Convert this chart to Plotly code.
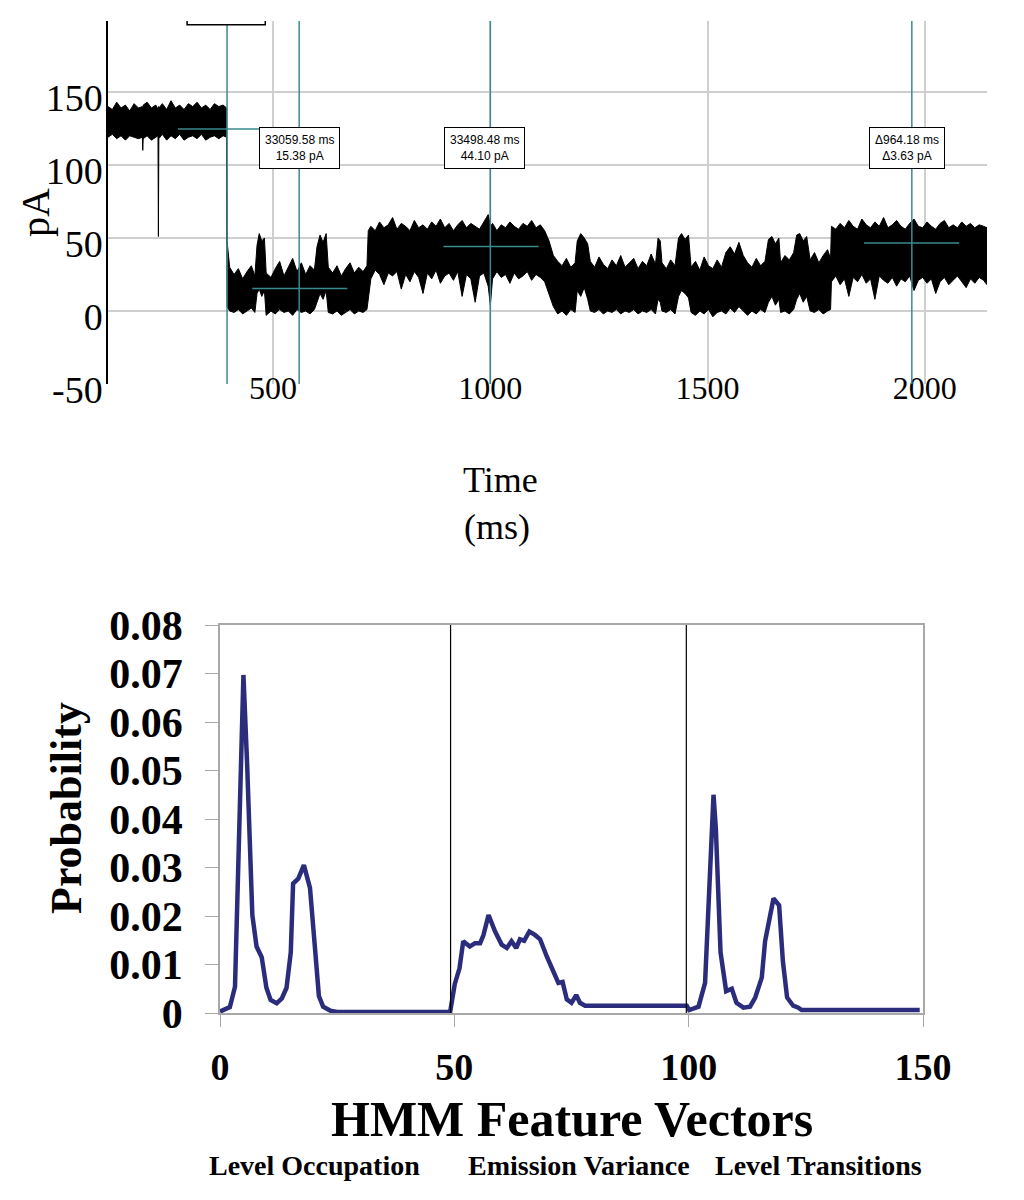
import plotly.graph_objects as go

# ---- top panel: current trace (envelope of the noisy record)
trace_t = [120, 130, 140, 150, 160, 170, 180, 190, 199, 200, 201, 210, 220, 230, 235, 236, 237,
           245, 255, 265, 275, 285, 295, 305, 315, 325, 335, 345, 355, 365, 375, 385, 393,
           394, 400, 410, 420, 430, 440, 450, 458, 463, 468, 474, 480, 484, 495, 505, 515,
           525, 535, 545, 555, 565, 575, 585, 595, 601, 608, 615, 622, 627, 637, 647, 657,
           667, 677, 687, 697, 707, 716, 719, 725, 735, 745, 755, 765, 775, 785, 795, 805,
           815, 825, 835, 845, 855, 865, 875, 885, 895, 905, 915, 925, 935, 945, 955, 965,
           975, 985, 995, 1000, 1005, 1015, 1025, 1035, 1045, 1055, 1065, 1075, 1085, 1095,
           1105, 1115, 1125, 1135, 1145, 1155, 1165, 1175, 1185, 1195, 1200, 1208, 1216, 1224,
           1230, 1240, 1250, 1260, 1270, 1280, 1290, 1300, 1310, 1320, 1330, 1340, 1350, 1360,
           1370, 1380, 1386, 1391, 1395, 1405, 1415, 1425, 1433, 1440, 1448, 1456, 1462, 1472,
           1482, 1492, 1502, 1512, 1522, 1532, 1542, 1552, 1562, 1572, 1582, 1592, 1602, 1612,
           1622, 1632, 1640, 1648, 1656, 1664, 1668, 1678, 1688, 1698, 1705, 1712, 1720, 1728,
           1736, 1746, 1756, 1766, 1776, 1783, 1785, 1795, 1805, 1815, 1825, 1835, 1845, 1855,
           1865, 1875, 1885, 1895, 1905, 1915, 1925, 1935, 1945, 1955, 1965, 1975, 1985, 1995,
           2005, 2015, 2025, 2035, 2045, 2055, 2065, 2075, 2085, 2095, 2105, 2115, 2125, 2135, 2143]
trace_hi = [140, 138, 143, 139, 141, 137, 142, 139, 140, 138, 141, 143, 139, 141, 138, 140, 139,
            142, 138, 144, 139, 141, 138, 142, 140, 143, 139, 141, 138, 142, 140, 141, 139,
            48, 30, 25, 29, 22, 27, 31, 24, 45, 53, 48, 50, 26, 23, 29, 34,
            24, 30, 36, 27, 33, 25, 31, 28, 44, 52, 47, 53, 30, 26, 31, 24,
            29, 33, 26, 30, 27, 31, 55, 58, 55, 61, 57, 59, 64, 56, 60, 58,
            55, 62, 57, 59, 56, 61, 58, 63, 57, 60, 55, 59, 62, 57, 60, 58,
            56, 61, 66, 58, 60, 55, 59, 57, 61, 58, 56, 60, 58, 62,
            57, 59, 55, 48, 38, 34, 31, 36, 30, 33, 48, 53, 50, 46,
            34, 30, 37, 32, 29, 35, 31, 38, 30, 33, 36, 29, 34, 31,
            39, 32, 50, 48, 33, 29, 35, 31, 50, 53, 49, 52, 30, 34,
            28, 37, 31, 29, 35, 30, 40, 44, 39, 47, 38, 33, 30, 36,
            31, 34, 49, 51, 46, 50, 33, 38, 35, 40, 52, 53, 48, 51,
            35, 40, 33, 38, 42, 36, 58, 56, 60, 57, 62, 58, 56, 63,
            59, 57, 61, 58, 64, 57, 59, 62, 58, 56, 60, 63, 58, 57,
            61, 58, 56, 60, 62, 57, 59, 57, 61, 58, 60, 57, 59, 58, 57]
trace_lo = [119, 121, 118, 120, 117, 120, 119, 118, 119, 110, 118, 120, 117, 119, 120, 51, 118,
            121, 117, 120, 118, 121, 117, 119, 120, 118, 121, 117, 119, 120, 118, 120, 119,
            3, 0, -1, 1, -2, 0, 2, -1, 12, 15, 10, 14, -3, 0, -2, 1,
            -1, 0, -3, 1, -1, 0, -2, 1, 6, 12, 8, 14, -1, -2, 0, -3,
            -1, 1, -2, 0, -1, 1, 10, 22, 28, 25, 18, 26, 24, 27, 15, 25,
            20, 27, 23, 12, 26, 22, 28, 19, 24, 26, 21, 27, 10, 25, 22, 6,
            24, 26, 17, 4, 22, 27, 23, 25, 19, 26, 22, 24, 27, 21,
            25, 23, 20, 12, 3, -2, 0, -3, 1, -1, 14, 10, 16, 8,
            0, -1, 1, -2, 0, -1, 1, -2, 0, -1, 1, -2, 0, -1,
            1, -2, 8, 6, 0, -1, 1, -2, 10, 14, 12, 9, -1, -3,
            0, -2, 1, -4, -1, 0, -2, 2, -1, 3, 0, -3, 0, -2,
            1, -1, 6, 10, 4, 8, -1, 0, -2, 1, 8, 12, 6, 10,
            0, -1, 1, -2, 0, 1, 20, 24, 18, 22, 10, 23, 20, 25,
            19, 22, 8, 24, 21, 19, 23, 17, 22, 20, 24, 14, 21, 23,
            19, 22, 12, 20, 23, 18, 21, 24, 20, 16, 22, 19, 23, 21, 18]

# cursors and their level markers
cursor_t = [394, 560, 1000, 1970]
level_t0 = [281, 452, 892, 1860]
level_t1 = [470, 671, 1111, 2079]
level_pa = [124.7, 15.4, 44.1, 46.6]
label_t = [560, 986, 1959]
label_text = ["33059.58 ms<br>15.38 pA", "33498.48 ms<br>44.10 pA", "\u0394964.18 ms<br>\u03943.63 pA"]

time_ticks = [500, 1000, 1500, 2000]
pa_ticks = [-50, 0, 50, 100, 150]
pa_labels = ["-50", "0", "50", "100", "150"]

# ---- bottom panel: HMM feature vector probabilities
feat_x = [0, 2.1, 3.2, 5.0, 5.8, 6.9, 7.8, 8.9, 9.9, 10.8, 12.1, 13.2, 14.2, 15.1, 15.6, 16.7,
          17.9, 19.2, 20.3, 21.1, 22.0, 23.5, 25.0, 49.1,
          50.1, 51.1, 51.9, 53.3, 54.4, 55.5, 56.2, 57.3, 58.7, 60.1, 61.2, 62.2, 63.2, 64.0,
          64.9, 66.0, 67.2, 68.3, 69.7, 71.1, 72.2, 73.1, 74.0, 75.0, 76.0, 76.8, 77.9, 99.6,
          100.1, 102.1, 103.5, 105.3, 105.8, 106.8, 108.0, 109.2, 110.2, 111.7, 113.1, 114.2,
          115.6, 116.3, 118.1, 119.3, 120.1, 121.0, 122.3, 123.4, 124.1, 149.3]
feat_prob = [0.0003, 0.0012, 0.0054, 0.0697, 0.051, 0.0202, 0.0137, 0.0115, 0.0052, 0.0027,
             0.002, 0.003, 0.0052, 0.0125, 0.0267, 0.0277, 0.0305, 0.0258, 0.013, 0.0035,
             0.0013, 0.0005, 0.0002, 0.0002,
             0.006, 0.0092, 0.0148, 0.0137, 0.0144, 0.0144, 0.016, 0.0202, 0.0168, 0.0141,
             0.0134, 0.0148, 0.0134, 0.0152, 0.0149, 0.0168, 0.0161, 0.0152, 0.0117, 0.0086,
             0.0062, 0.0064, 0.0028, 0.0021, 0.0037, 0.0021, 0.0015, 0.0015,
             0.0006, 0.0013, 0.0062, 0.045, 0.038, 0.0125, 0.0045, 0.005, 0.0021, 0.0011,
             0.0013, 0.0032, 0.0073, 0.0148, 0.0236, 0.0222, 0.0107, 0.0032, 0.0015, 0.0011,
             0.0006, 0.0006]
separators = [49.2, 99.5]
feat_ticks = [0, 50, 100, 150]
prob_ticks = [0, 0.01, 0.02, 0.03, 0.04, 0.05, 0.06, 0.07, 0.08]
prob_labels = ["0", "0.01", "0.02", "0.03", "0.04", "0.05", "0.06", "0.07", "0.08"]
section_names = ["Level Occupation", "Emission Variance", "Level Transitions"]
section_px = [314, 579, 818]

SERIF = "Liberation Serif, Times New Roman, serif"
TEAL = "#3a8a8e"
NAVY = "#2b2d7c"
W, H, OFF = 1024, 1200, 8   # page shows the figure 8 px in from the top-left


def px_x(p):
    return (p - OFF) / W


def px_y(p):
    return 1 - (p - OFF) / H


fig = go.Figure()

# noisy trace as a filled envelope
fig.add_trace(go.Scatter(x=trace_t + trace_t[::-1], y=trace_hi + trace_lo[::-1],
                         fill="toself", fillcolor="black", mode="lines",
                         line=dict(color="black", width=1),
                         hoverinfo="skip", xaxis="x", yaxis="y"))

# cursor level markers
for t0, t1, v in zip(level_t0, level_t1, level_pa):
    fig.add_trace(go.Scatter(x=[t0, t1], y=[v, v], mode="lines",
                             line=dict(color=TEAL, width=1.5),
                             hoverinfo="skip", xaxis="x", yaxis="y"))

# bottom curve
fig.add_trace(go.Scatter(x=feat_x, y=feat_prob, mode="lines",
                         line=dict(color=NAVY, width=4.5),
                         hoverinfo="skip", xaxis="x2", yaxis="y2"))

shapes = []
for t in cursor_t:
    shapes.append(dict(type="line", xref="x", yref="y", x0=t, x1=t, y0=-50, y1=199,
                       line=dict(color=TEAL, width=1.5), layer="above"))
# partly hidden cursor box at the top
shapes.append(dict(type="rect", xref="x", yref="y", x0=302, x1=482, y0=196, y1=260,
                   line=dict(color="black", width=1.5), fillcolor="white", layer="above"))
for s in separators:
    shapes.append(dict(type="line", xref="x2", yref="y2", x0=s, x1=s, y0=0, y1=0.08,
                       line=dict(color="black", width=1.2), layer="above"))


def note(x, y, text, size, angle=0):
    return dict(x=px_x(x), y=px_y(y), xref="paper", yref="paper", text=text, textangle=angle,
                showarrow=False, xanchor="center", yanchor="middle",
                font=dict(family=SERIF, size=size, color="black"))


annotations = []
for t, txt in zip(label_t, label_text):
    annotations.append(dict(x=t, y=111.6, xref="x", yref="y", text=txt, showarrow=False,
                            xanchor="center", yanchor="middle",
                            font=dict(family="Liberation Sans, Arial", size=12, color="black"),
                            bgcolor="white", bordercolor="black", borderwidth=1, borderpad=5))
annotations += [
    note(35, 213, "pA", 40, -90),
    note(500, 480, "Time", 36),
    note(497, 527, "(ms)", 36),
    note(66, 808, "<b>Probability</b>", 44, -90),
    note(572, 1119, "<b>HMM Feature Vectors</b>", 50),
]
for name, sx in zip(section_names, section_px):
    annotations.append(note(sx, 1165, "<b>" + name + "</b>", 28))

fig.update_layout(
    width=W, height=H,
    margin=dict(l=0, r=0, t=0, b=0, pad=0, autoexpand=False),
    paper_bgcolor="white", plot_bgcolor="white",
    showlegend=False,
    shapes=shapes, annotations=annotations,
    xaxis=dict(domain=[px_x(108), px_x(987)], range=[120, 2143], tickvals=time_ticks,
               showgrid=True, gridcolor="#cfcfcf", gridwidth=1.5, zeroline=False,
               showline=False, ticks="", anchor="free", position=px_y(366), automargin=False,
               tickfont=dict(family=SERIF, size=32, color="black")),
    yaxis=dict(domain=[px_y(384), px_y(21)], range=[-50, 198.6], tickvals=pa_ticks,
               ticktext=pa_labels, ticklabelstandoff=-4, ticklabelshift=6,
               showgrid=True, gridcolor="#cfcfcf", gridwidth=1.5, zeroline=False,
               showline=True, linecolor="black", linewidth=1.5, ticks="", anchor="x",
               automargin=False, tickfont=dict(family=SERIF, size=38, color="black")),
    xaxis2=dict(domain=[px_x(220), px_x(923)], range=[0, 150], tickvals=feat_ticks,
                showgrid=False, zeroline=False, showline=True, mirror=True,
                linecolor="#a8a8a8", linewidth=1.5, ticks="outside", ticklen=12,
                tickcolor="#a8a8a8", ticklabelstandoff=8, anchor="y2", automargin=False,
                tickfont=dict(family=SERIF, size=38, color="black", weight="bold")),
    yaxis2=dict(domain=[px_y(1013), px_y(625)], range=[0, 0.08], tickvals=prob_ticks,
                ticktext=prob_labels, showgrid=False, zeroline=False, showline=True,
                mirror=True, linecolor="#a8a8a8", linewidth=1.5, ticks="outside",
                ticklen=13, tickcolor="#a8a8a8", ticklabelstandoff=14, anchor="x2",
                automargin=False,
                tickfont=dict(family=SERIF, size=42, color="black", weight="bold")),
)

fig.write_html("out.html")
